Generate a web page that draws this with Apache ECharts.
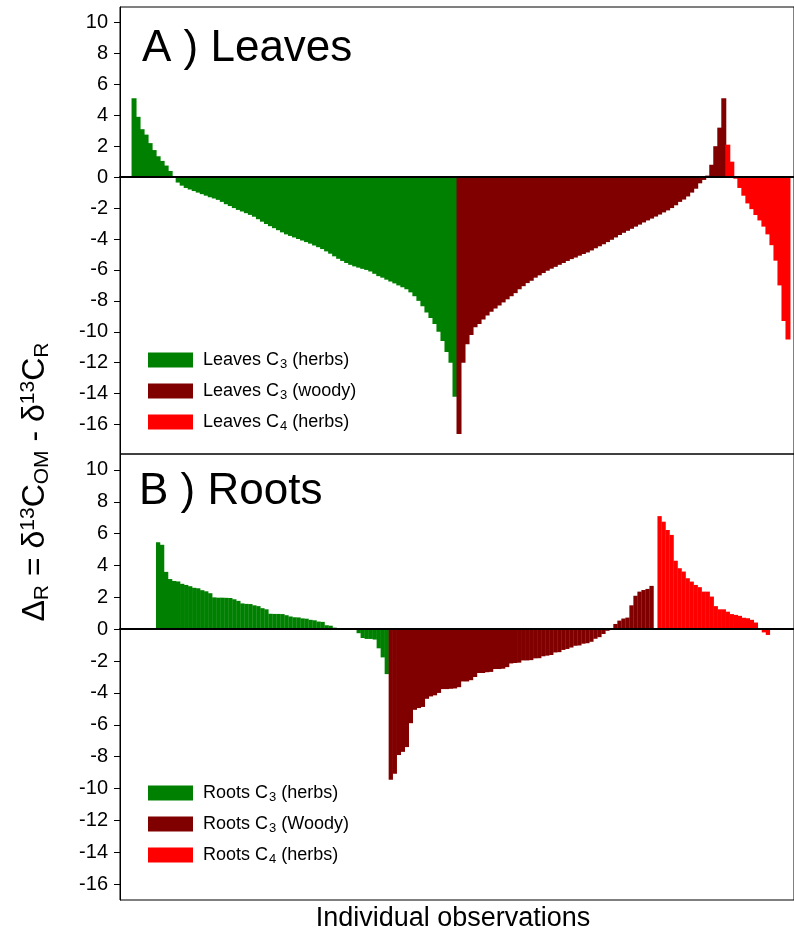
<!DOCTYPE html>
<html>
<head>
<meta charset="utf-8">
<script src="https://cdn.jsdelivr.net/npm/echarts@6/dist/echarts.min.js"></script>
<style>
  html, body { margin: 0; padding: 0; background: #fff; }
  #chart { width: 794px; height: 939px; }
</style>
</head>
<body>
<div id="chart"></div>
<script>
  // panel A: leaves, sorted observations
  var leavesHerbs = [5.1, 3.9, 3.1, 2.75, 2.2, 1.75, 1.35, 1.05, 0.75, 0.4,
    0.05, -0.35, -0.55, -0.7, -0.8, -0.9, -1.0, -1.1, -1.2, -1.3,
    -1.38, -1.47, -1.6, -1.75, -1.87, -2.0, -2.12, -2.22, -2.33, -2.44,
    -2.56, -2.72, -2.88, -3.03, -3.17, -3.3, -3.43, -3.57, -3.7, -3.8,
    -3.9, -4.0, -4.1, -4.2, -4.3, -4.42, -4.53, -4.65, -4.8, -4.95,
    -5.12, -5.28, -5.42, -5.55, -5.67, -5.77, -5.85, -5.93, -6.0, -6.1,
    -6.25, -6.4, -6.5, -6.63, -6.75, -6.87, -7.0, -7.12, -7.25, -7.45,
    -7.7, -8.0, -8.35, -8.75, -9.1, -9.5, -10.0, -10.6, -11.3, -12.0, -14.2];
  var leavesWoody = [-16.6, -12.0, -10.8, -10.2, -9.7, -9.5, -9.2, -8.95, -8.7, -8.5,
    -8.3, -8.1, -7.9, -7.7, -7.5, -7.25, -7.05, -6.85, -6.7, -6.5,
    -6.35, -6.2, -6.05, -5.92, -5.8, -5.67, -5.55, -5.42, -5.3, -5.2,
    -5.08, -4.97, -4.87, -4.74, -4.6, -4.47, -4.34, -4.2, -4.05, -3.9,
    -3.74, -3.6, -3.47, -3.34, -3.2, -3.07, -2.93, -2.8, -2.68, -2.55,
    -2.42, -2.28, -2.15, -2.0, -1.82, -1.6, -1.45, -1.25, -1.0, -0.75,
    -0.4, -0.18, 0.1, 0.8, 2.0, 3.2, 5.1];
  var leavesC4 = [2.1, 1.0, -0.1, -0.7, -1.2, -1.7, -2.07, -2.45, -2.8, -3.2,
    -3.7, -4.4, -5.4, -7.0, -9.3, -10.5];

  // panel B: roots
  var rootsHerbs = [5.46, 5.3, 3.6, 3.15, 3.03, 3.0, 2.85, 2.78, 2.7, 2.6,
    2.57, 2.45, 2.38, 2.26, 2.0, 1.98, 1.98, 1.97, 1.96, 1.88,
    1.78, 1.62, 1.59, 1.58, 1.5, 1.45, 1.32, 1.25, 0.97, 0.96,
    0.96, 0.95, 0.88, 0.8, 0.75, 0.74, 0.68, 0.66, 0.59, 0.56,
    0.48, 0.46, 0.25, 0.22, 0.1, 0.07, 0.02, 0, -0.02, -0.05,
    -0.25, -0.55, -0.61, -0.61, -0.65, -1.2, -1.77, -2.82];
  var rootsWoody = [-9.45, -9.08, -7.9, -7.7, -7.4, -5.9, -5.06, -4.95, -4.88, -4.37,
    -4.22, -4.15, -4.0, -3.76, -3.76, -3.74, -3.72, -3.64, -3.28, -3.28,
    -3.2, -3.0, -2.75, -2.75, -2.7, -2.68, -2.5, -2.5, -2.48, -2.38,
    -2.15, -2.12, -2.1, -1.96, -1.96, -1.94, -1.83, -1.82, -1.7, -1.66,
    -1.62, -1.46, -1.44, -1.3, -1.24, -1.15, -1.04, -1.02, -0.91, -0.88,
    -0.79, -0.6, -0.5, -0.3, -0.1, -0.03, 0.33, 0.54, 0.67, 0.73,
    1.5, 2.1, 2.36, 2.46, 2.53, 2.72];
  var rootsC4 = [7.1, 6.75, 6.23, 5.92, 4.3, 3.83, 3.62, 3.2, 2.99, 2.78,
    2.64, 2.36, 2.36, 2.05, 1.45, 1.25, 1.25, 1.1, 0.95, 0.9,
    0.84, 0.72, 0.69, 0.59, 0.42, 0.06, -0.2, -0.36];

  // empty observation slots before / between / after the groups
  var emptyA = [3, 0, 0, 1];
  var emptyB = [9, 0, 1, 6];

  var yTicks = [-16, -14, -12, -10, -8, -6, -4, -2, 0, 2, 4, 6, 8, 10];

  var namesA = ['Leaves C3 (herbs)', 'Leaves C3 (woody)', 'Leaves C4 (herbs)'];
  var namesB = ['Roots C3 (herbs)', 'Roots C3 (Woody)', 'Roots C4 (herbs)'];
  var legendText = {
    'Leaves C3 (herbs)': '{f|Leaves C}{s|3}{t| (herbs)}',
    'Leaves C3 (woody)': '{f|Leaves C}{s|3}{t| (woody)}',
    'Leaves C4 (herbs)': '{f|Leaves C}{s|4}{t| (herbs)}',
    'Roots C3 (herbs)': '{f|Roots C}{s|3}{t| (herbs)}',
    'Roots C3 (Woody)': '{f|Roots C}{s|3}{t| (Woody)}',
    'Roots C4 (herbs)': '{f|Roots C}{s|4}{t| (herbs)}'
  };
  var colors = ['#008000', '#800000', '#ff0000'];
  var font = 'Liberation Sans, Arial, sans-serif';

  function blanks(n) {
    var a = [];
    for (var i = 0; i < n; i++) a.push('-');
    return a;
  }

  // lay the three groups one after another along the observation axis
  function buildSeries(groups, empty, names, gridIdx, stack, width) {
    var out = [];
    var pos = 0;
    var total = empty[0] + empty[1] + empty[2] + empty[3];
    groups.forEach(function (g) { total += g.length; });
    for (var k = 0; k < groups.length; k++) {
      pos += empty[k];
      var d = blanks(pos).concat(groups[k]);
      pos += groups[k].length;
      d = d.concat(blanks(total - d.length));
      out.push({
        name: names[k],
        type: 'bar',
        stack: stack,
        xAxisIndex: gridIdx,
        yAxisIndex: gridIdx,
        barWidth: width,
        itemStyle: { color: colors[k] },
        emphasis: { disabled: true },
        data: d
      });
    }
    return { series: out, total: total };
  }

  var a = buildSeries([leavesHerbs, leavesWoody, leavesC4], emptyA, namesA, 0, 'A', 5);
  var b = buildSeries([rootsHerbs, rootsWoody, rootsC4], emptyB, namesB, 1, 'B', 4.3);

  function obs(n) {
    var c = [];
    for (var i = 1; i <= n; i++) c.push(String(i));
    return c;
  }

  function yAxis(idx, min, max) {
    return {
      gridIndex: idx,
      type: 'value',
      min: min,
      max: max,
      axisLine: { show: true, lineStyle: { color: '#000', width: 1 } },
      axisTick: { show: true, length: 6, customValues: yTicks, lineStyle: { color: '#000' } },
      axisLabel: { customValues: yTicks, fontSize: 20, color: '#000', fontFamily: font, margin: 12 },
      splitLine: { show: false }
    };
  }

  function xAxis(idx, n) {
    return {
      gridIndex: idx,
      type: 'category',
      data: obs(n),
      z: 5,
      axisLine: { onZero: true, lineStyle: { color: '#000', width: 2 } },
      axisTick: { show: false },
      axisLabel: { show: false }
    };
  }

  function legend(names, top) {
    return {
      data: names,
      orient: 'vertical',
      left: 148,
      top: top,
      padding: 0,
      icon: 'rect',
      itemWidth: 45,
      itemHeight: 15,
      itemGap: 11,
      selectedMode: false,
      formatter: function (name) { return legendText[name]; },
      textStyle: {
        color: '#000',
        fontFamily: font,
        rich: {
          f: { fontSize: 18, fontFamily: font, color: '#000', padding: [0, 0, 0, 5] },
          t: { fontSize: 18, fontFamily: font, color: '#000' },
          s: { fontSize: 13, fontFamily: font, color: '#000', padding: [9, 0, 0, 1] }
        }
      }
    };
  }

  var chart = echarts.init(document.getElementById('chart'));
  chart.setOption({
    animation: false,
    grid: [
      { left: 120, right: -1, top: 7, height: 447, show: true, borderColor: '#000', borderWidth: 1 },
      { left: 120, right: -1, top: 454, height: 446, show: true, borderColor: '#000', borderWidth: 1 }
    ],
    xAxis: [xAxis(0, a.total), xAxis(1, b.total)],
    yAxis: [yAxis(0, -17.9, 11), yAxis(1, -17, 11)],
    legend: [legend(namesA, 351), legend(namesB, 784)],
    series: a.series.concat(b.series),
    graphic: [
      {
        type: 'text', x: 142, y: 49,
        style: {
          text: 'A ) Leaves', fill: '#000', font: '44px ' + font,
          align: 'left', verticalAlign: 'middle', textAlign: 'left', textVerticalAlign: 'middle'
        }
      },
      {
        type: 'text', x: 139, y: 492,
        style: {
          text: 'B ) Roots', fill: '#000', font: '44px ' + font,
          align: 'left', verticalAlign: 'middle', textAlign: 'left', textVerticalAlign: 'middle'
        }
      },
      {
        type: 'text', x: 453, y: 919,
        style: {
          text: 'Individual observations', fill: '#000', font: '27px ' + font,
          align: 'center', verticalAlign: 'middle', textAlign: 'center', textVerticalAlign: 'middle'
        }
      },
      {
        type: 'text', x: 35, y: 482, rotation: Math.PI / 2,
        style: {
          text: '{n|\u0394}{sub|R}{n| = \u03b4}{sup|13}{n|C}{sub|OM}{n| - \u03b4}{sup|13}{n|C}{sub|R}',
          align: 'center', verticalAlign: 'middle', textAlign: 'center', textVerticalAlign: 'middle',
          rich: {
            n: { fontSize: 32, fontFamily: font, fill: '#000', color: '#000' },
            sub: { fontSize: 21, fontFamily: font, fill: '#000', color: '#000', padding: [14, 0, 0, 0] },
            sup: { fontSize: 21, fontFamily: font, fill: '#000', color: '#000', padding: [0, 0, 14, 0] }
          }
        }
      }
    ]
  });
</script>
</body>
</html>
